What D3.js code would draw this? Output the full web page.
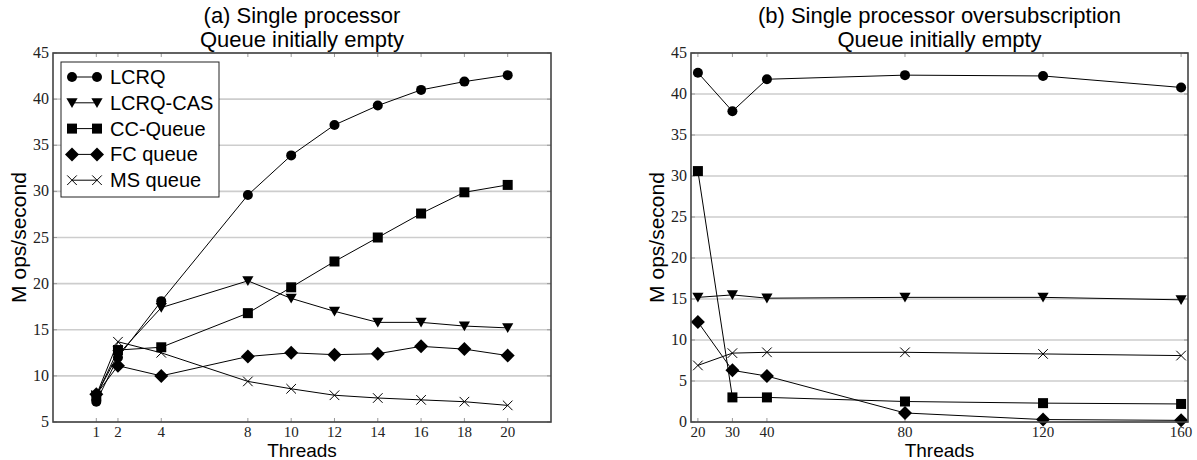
<!DOCTYPE html>
<html lang="en">
  <head>
    <title>Single processor queues</title>
    <script src="https://d3js.org/d3.v7.min.js"></script>
    <style>
      body {
        margin: 0;
        background-color: #fff;
      }
      .title,
      .axis-label,
      .legend text {
        font-family: "Liberation Sans", Helvetica, Arial, sans-serif;
        fill: #000;
      }
    </style>
  </head>
  <body>
    <div id="chart"></div>
    <script>
      // series names, same order in both panels
      const seriesNames = ["LCRQ", "LCRQ-CAS", "CC-Queue", "FC queue", "MS queue"];

      // (a) threads 1..20
      const threadsA = [1, 2, 4, 8, 10, 12, 14, 16, 18, 20];
      const lcrqA = [7.2, 12.0, 18.1, 29.6, 33.9, 37.2, 39.3, 41.0, 41.9, 42.6];
      const lcrqCasA = [7.9, 12.3, 17.4, 20.3, 18.4, 17.0, 15.8, 15.8, 15.4, 15.2];
      const ccQueueA = [7.8, 12.8, 13.1, 16.8, 19.6, 22.4, 25.0, 27.6, 29.9, 30.7];
      const fcQueueA = [8.0, 11.1, 10.0, 12.1, 12.5, 12.3, 12.4, 13.2, 12.9, 12.2];
      const msQueueA = [7.9, 13.7, 12.5, 9.4, 8.6, 7.9, 7.6, 7.4, 7.2, 6.8];
      const yTicksA = [5, 10, 15, 20, 25, 30, 35, 40, 45];

      // (b) oversubscription
      const threadsB = [20, 30, 40, 80, 120, 160];
      const lcrqB = [42.6, 37.9, 41.8, 42.3, 42.2, 40.8];
      const lcrqCasB = [15.2, 15.5, 15.1, 15.2, 15.2, 14.9];
      const ccQueueB = [30.6, 3.0, 3.0, 2.5, 2.3, 2.2];
      const fcQueueB = [12.2, 6.3, 5.6, 1.1, 0.3, 0.2];
      const msQueueB = [6.9, 8.4, 8.5, 8.5, 8.3, 8.1];
      const yTicksB = [0, 5, 10, 15, 20, 25, 30, 35, 40, 45];

      const width = 1197;
      const height = 460;
      const serif = "'Liberation Serif', 'DejaVu Serif', 'Times New Roman', serif";

      const svg = d3
        .select("#chart")
        .append("svg")
        .attr("width", width)
        .attr("height", height);

      // marker shapes
      const markers = {
        circle: (g) => g.append("circle").attr("r", 5),
        triangle: (g) => g.append("path").attr("d", "M-5.6,-4.6L5.6,-4.6L0,5.2Z"),
        square: (g) => g.append("rect").attr("x", -5).attr("y", -5).attr("width", 10).attr("height", 10),
        diamond: (g) => g.append("path").attr("d", "M0,-7L7,0L0,7L-7,0Z"),
        cross: (g) =>
          g
            .append("path")
            .attr("d", "M-4.8,-4.8L4.8,4.8M-4.8,4.8L4.8,-4.8")
            .attr("fill", "none")
            .attr("stroke", "#000")
            .attr("stroke-width", 1),
      };
      const markerKinds = ["circle", "triangle", "square", "diamond", "cross"];

      function drawPanel(opts) {
        const x = d3.scaleLinear().domain(opts.xDomain).range([opts.left, opts.right]);
        const y = d3.scaleLinear().domain(opts.yDomain).range([opts.bottom, opts.top]);
        const g = svg.append("g");

        // grid lines
        g.selectAll(".grid")
          .data(opts.yTicks)
          .enter()
          .append("line")
          .attr("x1", opts.left)
          .attr("x2", opts.right)
          .attr("y1", (d) => y(d))
          .attr("y2", (d) => y(d))
          .attr("stroke", "#cdcdcd")
          .attr("stroke-width", 1.6);

        // small inner ticks
        opts.xTicks.forEach((t) => {
          g.append("line")
            .attr("x1", x(t)).attr("x2", x(t))
            .attr("y1", opts.top).attr("y2", opts.top + 4)
            .attr("stroke", "#999");
          g.append("line")
            .attr("x1", x(t)).attr("x2", x(t))
            .attr("y1", opts.bottom).attr("y2", opts.bottom - 4)
            .attr("stroke", "#999");
        });
        opts.yTicks.forEach((t) => {
          g.append("line")
            .attr("x1", opts.left).attr("x2", opts.left + 4)
            .attr("y1", y(t)).attr("y2", y(t))
            .attr("stroke", "#999");
          g.append("line")
            .attr("x1", opts.right).attr("x2", opts.right - 4)
            .attr("y1", y(t)).attr("y2", y(t))
            .attr("stroke", "#999");
        });

        // tick labels
        g.selectAll(".ylab")
          .data(opts.yTicks)
          .enter()
          .append("text")
          .attr("font-family", serif)
          .attr("font-size", 16)
          .attr("fill", "#222")
          .attr("x", opts.left - 4)
          .attr("y", (d) => y(d) + 5)
          .attr("text-anchor", "end")
          .text((d) => d);
        g.selectAll(".xlab")
          .data(opts.xTicks)
          .enter()
          .append("text")
          .attr("font-family", serif)
          .attr("font-size", 15)
          .attr("fill", "#222")
          .attr("x", (d) => x(d))
          .attr("y", opts.bottom + 15)
          .attr("text-anchor", "middle")
          .text((d) => d);

        // series
        const line = d3.line().x((d) => x(d[0])).y((d) => y(d[1]));
        opts.series.forEach((vals, i) => {
          const pts = opts.xs.map((t, j) => [t, vals[j]]);
          g.append("path")
            .datum(pts)
            .attr("d", line)
            .attr("fill", "none")
            .attr("stroke", "#000")
            .attr("stroke-width", 1);
          pts.forEach((p) => {
            const m = g.append("g").attr("transform", `translate(${x(p[0])},${y(p[1])})`).attr("fill", "#000");
            markers[markerKinds[i]](m);
          });
        });

        // frame
        g.append("rect")
          .attr("x", opts.left)
          .attr("y", opts.top)
          .attr("width", opts.right - opts.left)
          .attr("height", opts.bottom - opts.top)
          .attr("fill", "none")
          .attr("stroke", "#444")
          .attr("stroke-width", 1.6);

        // titles
        const cx = (opts.left + opts.right) / 2;
        opts.title.forEach((t, i) => {
          g.append("text")
            .attr("class", "title")
            .attr("x", cx)
            .attr("y", 23 + i * 24)
            .attr("text-anchor", "middle")
            .attr("font-size", 22)
            .text(t);
        });
        g.append("text")
          .attr("class", "axis-label")
          .attr("x", cx)
          .attr("y", 457)
          .attr("text-anchor", "middle")
          .attr("font-size", 19)
          .text("Threads");
        g.append("text")
          .attr("class", "axis-label")
          .attr("transform", `translate(${opts.left - 27},${(opts.top + opts.bottom) / 2}) rotate(-90)`)
          .attr("text-anchor", "middle")
          .attr("font-size", 21)
          .text("M ops/second");
      }

      drawPanel({
        left: 53, right: 551, top: 53, bottom: 422,
        xDomain: [-1, 22], yDomain: [5, 45],
        xTicks: threadsA, yTicks: yTicksA, xs: threadsA,
        series: [lcrqA, lcrqCasA, ccQueueA, fcQueueA, msQueueA],
        title: ["(a) Single processor", "Queue initially empty"],
      });

      drawPanel({
        left: 691, right: 1188, top: 53, bottom: 422,
        xDomain: [18, 162], yDomain: [0, 45],
        xTicks: threadsB, yTicks: yTicksB, xs: threadsB,
        series: [lcrqB, lcrqCasB, ccQueueB, fcQueueB, msQueueB],
        title: ["(b) Single processor oversubscription", "Queue initially empty"],
      });

      // legend in panel (a)
      const legend = svg.append("g").attr("class", "legend");
      legend
        .append("rect")
        .attr("x", 61)
        .attr("y", 62)
        .attr("width", 158)
        .attr("height", 135)
        .attr("fill", "#fff")
        .attr("stroke", "#222")
        .attr("stroke-width", 1);
      seriesNames.forEach((name, i) => {
        const ly = 77 + i * 25.8;
        legend.append("line")
          .attr("x1", 72).attr("x2", 97)
          .attr("y1", ly).attr("y2", ly)
          .attr("stroke", "#000");
        [72, 97].forEach((lx) => {
          const m = legend.append("g").attr("transform", `translate(${lx},${ly})`).attr("fill", "#000");
          markers[markerKinds[i]](m);
        });
        legend.append("text")
          .attr("x", 110)
          .attr("y", ly + 7)
          .attr("font-size", 20)
          .text(name);
      });
    </script>
  </body>
</html>
